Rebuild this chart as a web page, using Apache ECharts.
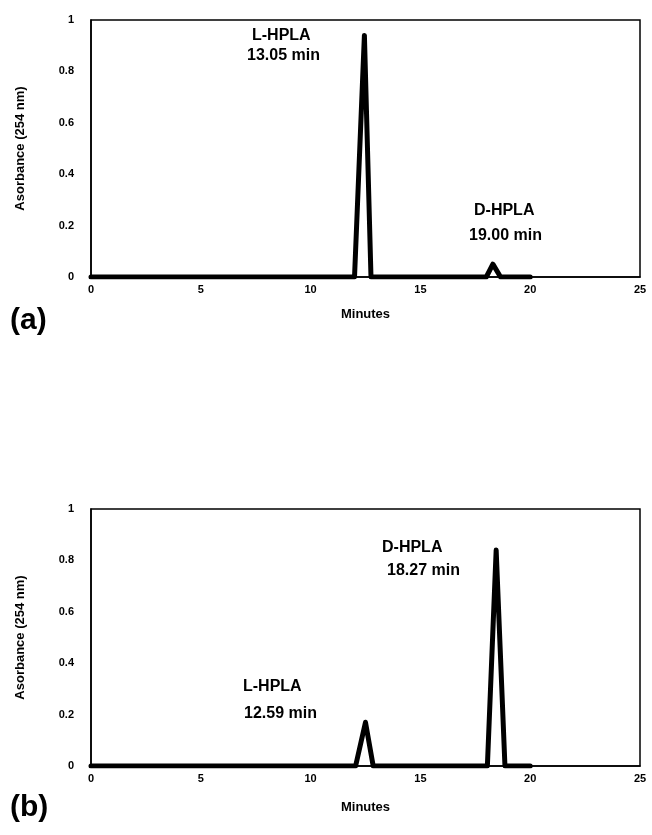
<!DOCTYPE html>
<html>
<head>
<meta charset="utf-8">
<script src="https://cdn.jsdelivr.net/npm/echarts@6/dist/echarts.min.js"></script>
<style>
html,body{margin:0;padding:0;background:#fff;}
#chart{width:652px;height:835px;}
</style>
</head>
<body>
<div id="chart"></div>
<script>
// Chart (a)
const timeA = [0, 12.0, 12.45, 12.75, 18.0, 18.3, 18.65, 20];
const absA  = [0, 0, 0.94, 0, 0, 0.05, 0, 0];
// Chart (b)
const timeB = [0, 12.05, 12.5, 12.85, 18.05, 18.45, 18.85, 20];
const absB  = [0, 0, 0.17, 0, 0, 0.84, 0, 0];

const xTicks = [0, 5, 10, 15, 20, 25];
const yTicks = [0, 0.2, 0.4, 0.6, 0.8, 1];
const xTitle = 'Minutes';
const yTitle = 'Asorbance (254 nm)';
const panelLabels = ['(a)', '(b)'];
const annotationsA = [['L-HPLA', '13.05 min'], ['D-HPLA', '19.00 min']];
const annotationsB = [['D-HPLA', '18.27 min'], ['L-HPLA', '12.59 min']];

const FONT = '"Liberation Sans", Arial, sans-serif';
const chart = echarts.init(document.getElementById('chart'), null, {renderer: 'canvas'});

function xAxis(idx, gap) {
  return {
    type: 'value', gridIndex: idx, min: 0, max: 25, interval: 5,
    name: xTitle, nameLocation: 'middle', nameGap: gap,
    nameTextStyle: {fontFamily: FONT, fontWeight: 'bold', fontSize: 13, color: '#000'},
    axisLine: {show: true, lineStyle: {color: '#000', width: 1.5}},
    axisTick: {show: false},
    splitLine: {show: false},
    axisLabel: {fontFamily: FONT, fontWeight: 'bold', fontSize: 11, color: '#000', margin: 7,
      formatter: v => xTicks.includes(v) ? String(v) : ''}
  };
}
function yAxis(idx) {
  return {
    type: 'value', gridIndex: idx, min: 0, max: 1, interval: 0.2,
    name: yTitle, nameLocation: 'middle', nameGap: 64, nameRotate: 90,
    nameTextStyle: {fontFamily: FONT, fontWeight: 'bold', fontSize: 13, color: '#000'},
    axisLine: {show: true, lineStyle: {color: '#000', width: 1.5}},
    axisTick: {show: false},
    splitLine: {show: false},
    axisLabel: {fontFamily: FONT, fontWeight: 'bold', fontSize: 11, color: '#000', margin: 17,
      formatter: v => { const t = yTicks.find(k => Math.abs(k - v) < 1e-9); return t === undefined ? '' : String(t); }}
  };
}
function pairs(xs, ys) { return xs.map((x, i) => [x, ys[i]]); }

function txt(text, left, top, size, weight) {
  return {type: 'text', left: left, top: top,
    style: {text: text, fontFamily: FONT, fontSize: size, fontWeight: weight || 'bold', fill: '#000'}};
}

const option = {
  backgroundColor: '#fff',
  animation: false,
  grid: [
    {left: 91, top: 20, width: 549, height: 257, show: true, borderColor: '#000', borderWidth: 1.5, backgroundColor: 'transparent'},
    {left: 91, top: 509, width: 549, height: 257, show: true, borderColor: '#000', borderWidth: 1.5, backgroundColor: 'transparent'}
  ],
  xAxis: [xAxis(0, 31), xAxis(1, 35)],
  yAxis: [yAxis(0), yAxis(1)],
  series: [
    {type: 'line', xAxisIndex: 0, yAxisIndex: 0, data: pairs(timeA, absA), showSymbol: false,
      lineStyle: {color: '#000', width: 5, join: 'round', cap: 'round'}},
    {type: 'line', xAxisIndex: 1, yAxisIndex: 1, data: pairs(timeB, absB), showSymbol: false,
      lineStyle: {color: '#000', width: 5, join: 'round', cap: 'round'}}
  ],
  graphic: [
    txt(panelLabels[0], 10, 306, 30),
    txt(panelLabels[1], 10, 793, 30),
    txt(annotationsA[0][0], 252, 28, 16),
    txt(annotationsA[0][1], 247, 48, 16),
    txt(annotationsA[1][0], 474, 203, 16),
    txt(annotationsA[1][1], 469, 228, 16),
    txt(annotationsB[0][0], 382, 540, 16),
    txt(annotationsB[0][1], 387, 563, 16),
    txt(annotationsB[1][0], 243, 679, 16),
    txt(annotationsB[1][1], 244, 706, 16)
  ]
};
chart.setOption(option);
</script>
</body>
</html>
